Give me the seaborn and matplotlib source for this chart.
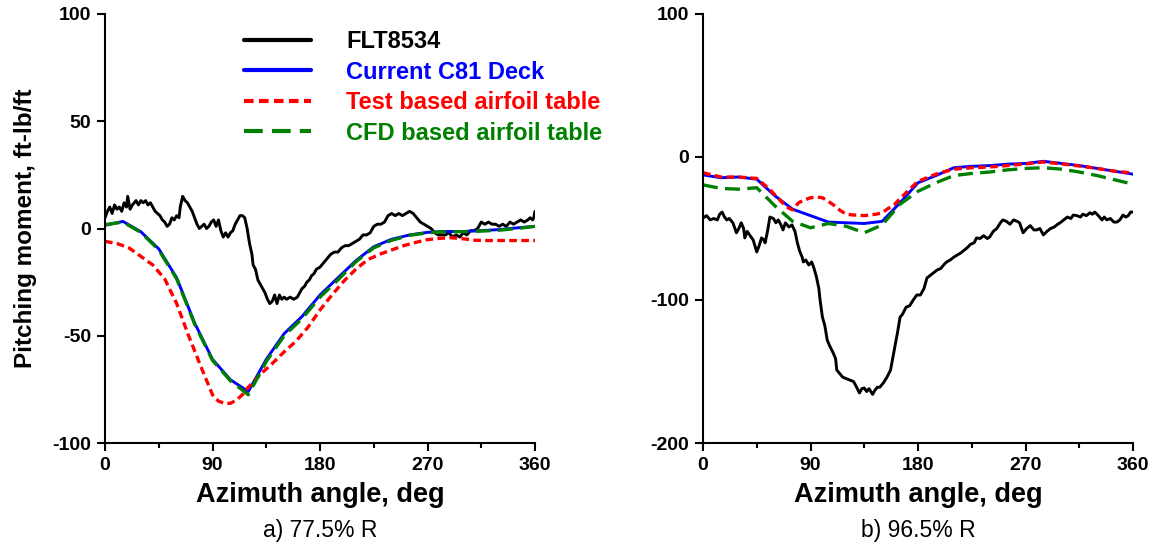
import pandas as pd
import matplotlib
matplotlib.use("Agg")
import matplotlib.pyplot as plt
from matplotlib.ticker import MultipleLocator
import seaborn as sns

# --- data: a) 77.5% R ---
a_flt_x = [0, 2, 4, 6, 8, 10, 12, 14, 16, 18, 19, 21, 23, 26, 28, 30, 32, 34, 36, 38, 40, 42, 44, 46, 48,
           50, 52, 54, 56, 58, 60, 62, 63, 65, 67, 69, 71, 73, 75, 77, 79, 81, 83, 85, 87, 89, 91, 93, 95,
           97, 99, 101, 103, 105, 107, 109, 111, 113, 115, 117, 119, 121, 123, 124, 126, 128, 130, 132, 134,
           136, 138, 140, 142, 144, 146, 148, 150, 152, 155, 158, 161, 163, 165, 167, 169, 171, 173, 175,
           177, 180, 183, 186, 189, 192, 195, 198, 201, 204, 207, 210, 213, 216, 219, 222, 225, 228, 231,
           234, 237, 240, 243, 246, 249, 252, 255, 258, 261, 264, 267, 270, 273, 276, 279, 282, 285, 288,
           291, 294, 297, 300, 303, 306, 309, 312, 315, 318, 321, 324, 327, 330, 333, 336, 339, 342, 345,
           348, 351, 354, 356, 358, 359, 360]
a_flt_y = [5, 8, 10, 7, 11, 9, 10, 8, 12, 10, 15, 9, 11, 13, 11, 13, 12, 13, 11, 12, 10, 8, 7, 6, 4,
           3, 1, 2, 5, 4, 6, 5, 10, 15, 13, 12, 10, 8, 5, 2, 0, 1, 2, 0, 1, 3, 4, 1, 4,
           -1, -4, -2, -4, -2, -1, 2, 4, 6, 6, 5, 0, -7, -12, -17, -19, -24, -26, -28, -30,
           -33, -35, -34, -31, -35, -31, -33, -32, -33, -32, -33, -32, -30, -28, -27, -25, -24, -22, -21,
           -19, -18, -16, -14, -12, -11, -11, -9, -8, -8, -7, -6, -5, -3, -3, -2, 1, 2, 2,
           3, 6, 7, 6, 7, 6, 7, 8, 7, 5, 3, 2, 1, 0, -2, -3, -3, -3, -2,
           -4, -3, -4, -2, -3, -1, -1, 0, 3, 2, 3, 2, 2, 1, 2, 1, 3, 2, 3,
           4, 3, 4, 5, 4, 5, 8]

a_c81_x = [0, 15, 30, 45, 60, 75, 90, 105, 120, 135, 150, 165, 180, 195, 210, 225, 240, 255, 270, 285,
           300, 315, 330, 345, 360]
a_c81_y = [1.5, 3.3, -1.5, -9.5, -23, -44, -61, -70.5, -76, -61, -49, -41, -31, -23, -15, -8.5, -5, -3,
           -1.8, -1.4, -1.4, -1, -0.5, 0.3, 1]

a_test_x = [0, 10, 20, 30, 40, 50, 60, 70, 80, 90, 95, 100, 105, 110, 115, 120, 130, 140, 150, 160, 170,
            180, 190, 200, 210, 220, 230, 240, 250, 260, 270, 280, 290, 300, 310, 320, 330, 340, 350, 360]
a_test_y = [-6, -7, -9, -13, -17, -23.5, -35, -50, -64, -77.5, -80.5, -81.5, -81.5, -80, -77.5, -74, -68,
            -63, -57.5, -52.5, -46, -38, -31, -24.5, -19, -14.5, -12, -10, -8, -6.5, -5.2, -4.6, -4.3,
            -4.8, -5.5, -5.6, -5.6, -5.6, -5.6, -5.6]

a_cfd_x = a_c81_x
a_cfd_y = [1.8, 3.0, -1.8, -10, -23.5, -44.5, -61.5, -71, -77.5, -62, -50, -42, -32, -24, -15.5, -9, -5.5,
           -3.2, -2, -1.5, -1.5, -1.2, -0.8, 0, 1]

# --- data: b) 96.5% R ---
b_flt_x = [0, 3, 6, 9, 12, 14, 16, 18, 20, 22,
           25, 28, 30, 32, 34, 35, 37, 39, 42, 45,
           47, 49, 51, 52, 54, 56, 59, 61, 63, 65,
           67, 69, 72, 74.5, 77, 79, 81, 83, 84, 86,
           88.6, 91, 93, 95, 97, 98, 100, 102, 104, 106,
           109, 111, 112, 114, 117, 120, 123, 126, 128, 131,
           133, 135, 137, 139, 142, 144, 146, 148, 151, 154,
           157, 159, 161, 163, 165, 167, 170, 173, 176, 179,
           182, 185, 187.5, 190, 193, 196, 199, 202, 204, 207,
           210, 213, 216, 219, 221, 224, 227, 229, 232, 235,
           238, 240, 243, 246, 249, 251, 254, 257, 260, 263,
           265, 268, 271, 274, 277, 279.5, 282, 285, 288, 291,
           294, 297, 299, 302, 305, 308, 310, 313, 316, 318,
           321, 324, 326, 328, 331, 334, 336, 338, 341, 344,
           346.6, 349, 351.6, 354, 356, 358, 360]
b_flt_y = [-42.7, -41, -44, -43, -44, -40, -38.5, -42, -44, -43,
           -46, -53, -50, -46, -50, -56.6, -52, -54.5, -58, -66.4,
           -62, -56.6, -58, -60, -52, -42, -43, -46, -44, -47,
           -51, -46, -49, -47.5, -52, -60, -66, -70, -73.4, -72,
           -75.5, -73.4, -78, -84, -92, -100, -112, -118, -128, -132,
           -137, -141, -149, -151, -154, -155, -156, -157, -160, -165,
           -162, -161.5, -164, -162, -166, -163, -161, -161, -158, -154,
           -149, -140, -131, -122, -112, -110, -105, -104, -100, -96.5,
           -96.5, -92, -84.6, -83, -81, -79, -78, -75, -73.4, -72,
           -70, -68.5, -67, -65, -63.6, -61, -60, -56.6, -57, -55,
           -57, -56, -52, -50, -46, -44, -45, -47, -44, -45,
           -46, -53, -50, -48, -51, -51, -50, -54.5, -52, -50,
           -49, -47, -46, -44, -42, -43, -40.6, -41, -42, -40,
           -41, -39, -40, -38.5, -41, -44, -42, -44, -43, -45.5,
           -45.5, -44, -40.6, -42, -41, -38.5, -38.5]

b_c81_x = a_c81_x
b_c81_y = [-12.5, -14.5, -14, -15.5, -27, -36.5, -41, -45.5, -46, -46.5, -45, -32, -18, -13, -7.5, -6.5,
           -6, -5, -4.5, -3, -4.5, -6, -8, -10, -12]

b_test_x = [0, 15, 30, 45, 55, 62, 70, 75, 80, 85, 90, 95, 100, 105, 110, 115, 120, 125, 135, 145,
            150, 155, 160, 165, 170, 180, 195, 210, 225, 240, 255, 270, 285, 300, 315, 330, 345, 360]
b_test_y = [-11, -14, -14, -15, -22, -28, -35, -37, -32, -30, -28.5, -28, -28.5, -31, -34, -37.5, -40,
            -40.5, -41, -40, -39, -36, -33.5, -29, -25, -17, -12, -8.5, -7.5, -7, -6, -4.8, -3.5, -4.8,
            -6.3, -8, -10, -11.2]

b_cfd_x = a_c81_x
b_cfd_y = [-19.5, -22, -22.5, -21.5, -34, -45, -49.5, -46.5, -48.5, -53, -47.5, -33, -24, -18, -13, -11.5,
           -10.5, -9, -8, -7.5, -8.5, -10.5, -13, -16, -19]

labels = ["FLT8534", "Current C81 Deck", "Test based airfoil table", "CFD based airfoil table"]
colors = ["black", "#0000ff", "#ff0000", "#008000"]
styles = ["-", "-", (0, (2.3, 1.3)), (0, (4.5, 2.2))]

sns.set_theme(style="ticks")
plt.rcParams['font.family'] = ['Liberation Sans', 'DejaVu Sans']
plt.rcParams['axes.unicode_minus'] = False
plt.rcParams['text.color'] = 'black'
plt.rcParams['axes.labelcolor'] = 'black'
plt.rcParams['xtick.color'] = 'black'
plt.rcParams['ytick.color'] = 'black'

fig = plt.figure(figsize=(11.56, 5.48), dpi=100)
ax_a = fig.add_axes([105 / 1156, 105 / 548, 430 / 1156, 429 / 548])
ax_b = fig.add_axes([703 / 1156, 105 / 548, 430 / 1156, 429 / 548])

panels = [
    (ax_a, [(a_flt_x, a_flt_y), (a_c81_x, a_c81_y), (a_test_x, a_test_y), (a_cfd_x, a_cfd_y)],
     (-100, 100), 50, "a) 77.5% R"),
    (ax_b, [(b_flt_x, b_flt_y), (b_c81_x, b_c81_y), (b_test_x, b_test_y), (b_cfd_x, b_cfd_y)],
     (-200, 100), 100, "b) 96.5% R"),
]

for ax, series, ylim, ystep, caption in panels:
    for (xs, ys), lab, col, ls in zip(series, labels, colors, styles):
        df = pd.DataFrame({"az": xs, "pm": ys})
        lw = 2.4 if col in ("#ff0000", "#008000") else 2.1
        sns.lineplot(data=df, x="az", y="pm", ax=ax, color=col, linewidth=lw, label=lab,
                     sort=False, legend=False)
        ax.get_lines()[-1].set_linestyle(ls)
    ax.set_xlim(0, 360)
    ax.set_ylim(*ylim)
    ax.xaxis.set_major_locator(MultipleLocator(90))
    ax.xaxis.set_minor_locator(MultipleLocator(45))
    ax.yaxis.set_major_locator(MultipleLocator(ystep))
    ax.tick_params(which="major", direction="out", length=6, width=1.5, labelsize=14, pad=4)
    ax.tick_params(which="minor", direction="out", length=3.5, width=1.5)
    for lbl in ax.get_xticklabels() + ax.get_yticklabels():
        lbl.set_fontweight("bold")
    for s in ["left", "bottom"]:
        ax.spines[s].set_linewidth(1.5)
        ax.spines[s].set_color("black")
    sns.despine(ax=ax)
    ax.set_xlabel("Azimuth angle, deg", fontsize=19.5, fontweight="bold", labelpad=6)
    ax.set_ylabel("")
    ax.text(0.5, -0.203, caption, transform=ax.transAxes, ha="center", va="center", fontsize=16.5)

ax_a.set_ylabel("Pitching moment, ft-lb/ft", fontsize=17.5, fontweight="bold", labelpad=11)

leg = ax_a.legend(loc="upper left", bbox_to_anchor=(0.295, 0.99), frameon=False,
                  prop={"weight": "bold", "size": 17}, handlelength=2.85, handletextpad=1.5,
                  labelspacing=0.32, borderpad=0, labelcolor="linecolor")
for h in leg.get_lines():
    h.set_linewidth(3)

fig.savefig("out.png", dpi=100)
